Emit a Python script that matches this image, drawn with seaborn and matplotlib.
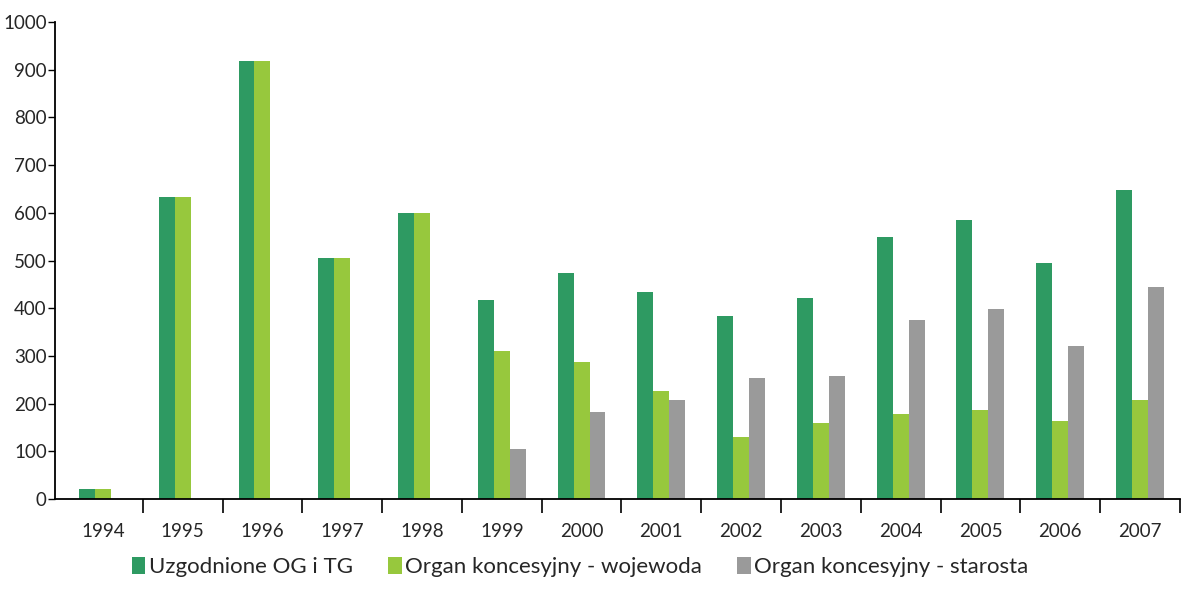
import numpy as np
import pandas as pd
import matplotlib
matplotlib.use("Agg")
import matplotlib.pyplot as plt
import seaborn as sns

years = ["1994", "1995", "1996", "1997", "1998", "1999", "2000",
         "2001", "2002", "2003", "2004", "2005", "2006", "2007"]
series = ["Uzgodnione OG i TG", "Organ koncesyjny - wojewoda", "Organ koncesyjny - starosta"]
uzgodnione = [20, 633, 918, 505, 600, 418, 473, 433, 384, 421, 550, 585, 495, 648]
wojewoda = [20, 633, 918, 505, 600, 310, 288, 226, 130, 160, 178, 187, 163, 207]
starosta = [np.nan, np.nan, np.nan, np.nan, np.nan, 104, 183, 207, 254, 257, 375, 399, 321, 445]
colors = ["#2E9A62", "#97C83D", "#9A9A9A"]

df = pd.DataFrame({
    "year": years * 3,
    "series": [series[0]] * 14 + [series[1]] * 14 + [series[2]] * 14,
    "value": uzgodnione + wojewoda + starosta,
})

sns.set_theme(style="white")
plt.rcParams['font.family'] = ['Lato', 'DejaVu Sans']

fig = plt.figure(figsize=(11.84, 6.06), dpi=100)
ax = fig.add_axes([0.0465, 0.1766, 0.95, 0.787])
sns.barplot(data=df, x="year", y="value", hue="series", palette=colors,
            width=0.6, saturation=1, linewidth=0, ax=ax, order=years, hue_order=series)

ax.set_ylim(0, 1000)
ax.set_xlim(-0.6, 13.5)
ax.set_yticks(range(0, 1001, 100))
ax.tick_params(axis="y", labelsize=13.5, length=5, width=1, color="black", direction="out", left=True, pad=1)

ax.set_xticks(np.arange(0.5, 13.6, 1))
ax.set_xticklabels([])
ax.set_xticks(np.arange(0, 14), minor=True)
ax.set_xticklabels(years, minor=True, fontsize=13.5)
ax.tick_params(axis="x", which="major", length=10, width=1.2, color="black", direction="out", bottom=True)
ax.tick_params(axis="x", which="minor", length=0, pad=17)

sns.despine(ax=ax)
for s in ["left", "bottom"]:
    ax.spines[s].set_color("black")
    ax.spines[s].set_linewidth(1.3)
ax.set_xlabel("")
ax.set_ylabel("")

handles, labels = ax.get_legend_handles_labels()
ax.get_legend().remove()
fig.legend(handles, labels, loc="center", bbox_to_anchor=(0.49, 0.064), ncol=3,
           frameon=False, fontsize=16, handlelength=0.6, handleheight=0.8,
           handletextpad=0.15, columnspacing=1.6)

fig.savefig("out.png", dpi=100)
